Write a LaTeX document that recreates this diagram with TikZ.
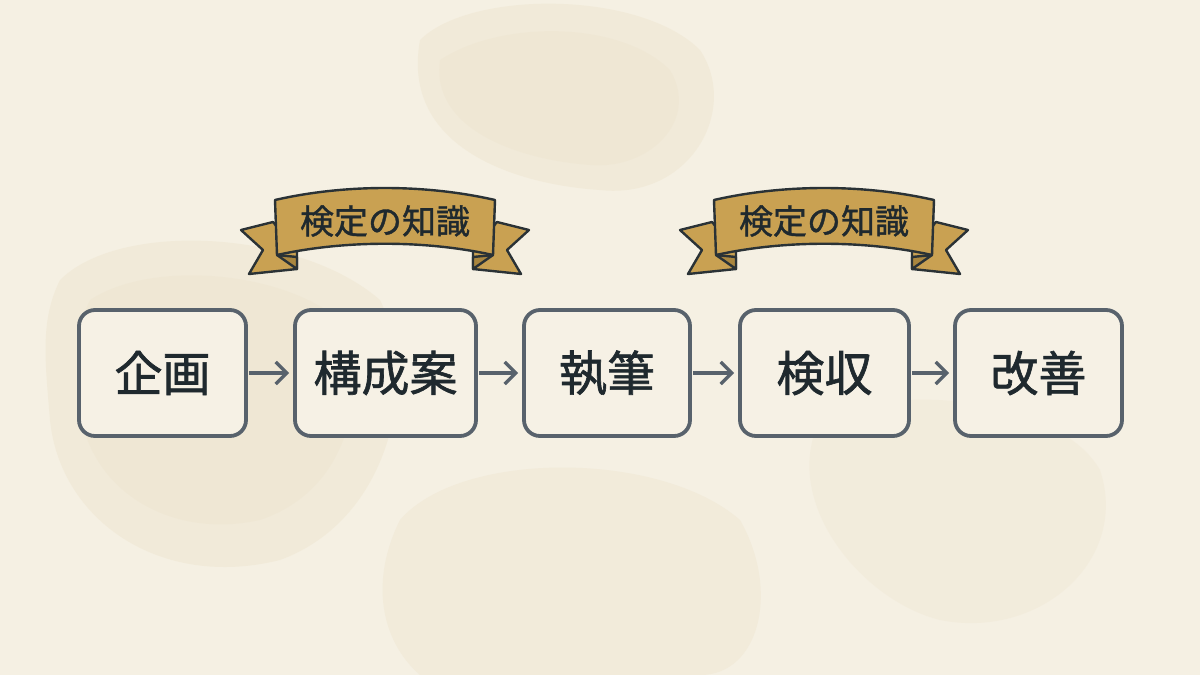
\documentclass[tikz,border=0pt]{standalone}
\usepackage{fontspec}
\newfontfamily\jpfont[FakeBold=1.3]{Noto Sans CJK JP}
\newfontfamily\jpribfont[FakeBold=1.1]{Noto Sans CJK JP}
\usetikzlibrary{arrows.meta}
\definecolor{bgcream}{HTML}{F5F0E3}
\definecolor{blot}{HTML}{E6D7B6}
\definecolor{boxline}{HTML}{58626C}
\definecolor{boxfill}{HTML}{F6F1E5}
\definecolor{inkdark}{HTML}{1F292E}
\definecolor{gold}{HTML}{C9A152}
\definecolor{golddark}{HTML}{A9863F}
\definecolor{ribline}{HTML}{2A3236}
\tikzset{
  stagebox/.style={draw=boxline, line width=1.9pt, fill=boxfill, rounded corners=8pt,
    minimum height=63pt, inner sep=0pt, text=inkdark,
    font=\jpfont\fontsize{24}{28}\selectfont},
  flowarrow/.style={draw=boxline, line width=1.7pt,
    -{Straight Barb[length=5.5pt,width=11pt,line width=1.7pt]}, shorten >=2pt, shorten <=0.5pt},
  ribbontext/.style={text=inkdark, inner sep=0pt, font=\jpribfont\fontsize{17}{20}\selectfont},
  ribbon/.pic={
    \foreach \s in {-1,1}{
      \filldraw[fill=gold, draw=ribline, line width=1.2pt, line join=round]
        (\s*112,222) -- (\s*144,230) -- (\s*122,250) -- (\s*136,274) -- (\s*88,269) -- (\s*88,250) -- cycle;
      \filldraw[fill=golddark, draw=ribline, line width=1.2pt, line join=round]
        (\s*108,255) -- (\s*88,257) -- (\s*88,269) -- cycle;
    }
    \filldraw[fill=gold, draw=ribline, line width=1.2pt, line join=round]
      (-110,200) .. controls (-40,184) and (40,184) .. (110,200)
      -- (108,255) .. controls (40,240) and (-40,240) .. (-108,255) -- cycle;
  }
}
\begin{document}
\begin{tikzpicture}[x=0.5pt,y=-0.5pt]
\useasboundingbox (0,0) rectangle (1200,675);
\fill[bgcream] (0,0) rectangle (1200,675);
% soft background blots
\begin{scope}[blot]
\fill[opacity=0.22] (420,40) .. controls (470,-10) and (640,-10) .. (700,50)
  .. controls (740,110) and (690,200) .. (600,190) .. controls (520,185) and (400,150) .. cycle;
\fill[opacity=0.12] (440,60) .. controls (500,20) and (620,20) .. (670,70)
  .. controls (700,120) and (650,170) .. (590,165) .. controls (520,160) and (430,130) .. cycle;
\fill[opacity=0.22] (60,280) .. controls (120,220) and (300,230) .. (380,300)
  .. controls (420,380) and (390,520) .. (280,560) .. controls (160,590) and (60,520) .. (50,420)
  .. controls (45,360) and (40,320) .. cycle;
\fill[opacity=0.12] (90,300) .. controls (150,260) and (280,270) .. (340,320)
  .. controls (370,390) and (350,490) .. (260,520) .. controls (170,540) and (90,490) .. (80,410)
  .. controls (75,350) and (80,320) .. cycle;
\fill[opacity=0.2] (400,520) .. controls (460,450) and (660,450) .. (740,520)
  .. controls (780,590) and (760,675) .. (700,675) -- (420,675) .. controls (380,640) and (370,580) .. cycle;
\fill[opacity=0.15] (820,420) .. controls (900,380) and (1060,400) .. (1100,470)
  .. controls (1130,560) and (1040,640) .. (940,620) .. controls (860,600) and (780,500) .. cycle;
\end{scope}
% stage boxes
\node[stagebox, minimum width=83.5pt] (plan) at (162.5,373) {企画};
\node[stagebox, minimum width=90.5pt] (struct) at (385.5,373) {構成案};
\node[stagebox, minimum width=83pt] (write) at (607,373) {執筆};
\node[stagebox, minimum width=84.5pt] (check) at (824.5,373) {検収};
\node[stagebox, minimum width=83.5pt] (improve) at (1038.5,373) {改善};
% arrows
\draw[flowarrow] (plan) -- (struct);
\draw[flowarrow] (struct) -- (write);
\draw[flowarrow] (write) -- (check);
\draw[flowarrow] (check) -- (improve);
% ribbons
\pic at (385,0) {ribbon};
\pic at (824,0) {ribbon};
\node[ribbontext] (rib1) at (385,221) {検定の知識};
\node[ribbontext] (rib2) at (824,221) {検定の知識};
\end{tikzpicture}
\end{document}
